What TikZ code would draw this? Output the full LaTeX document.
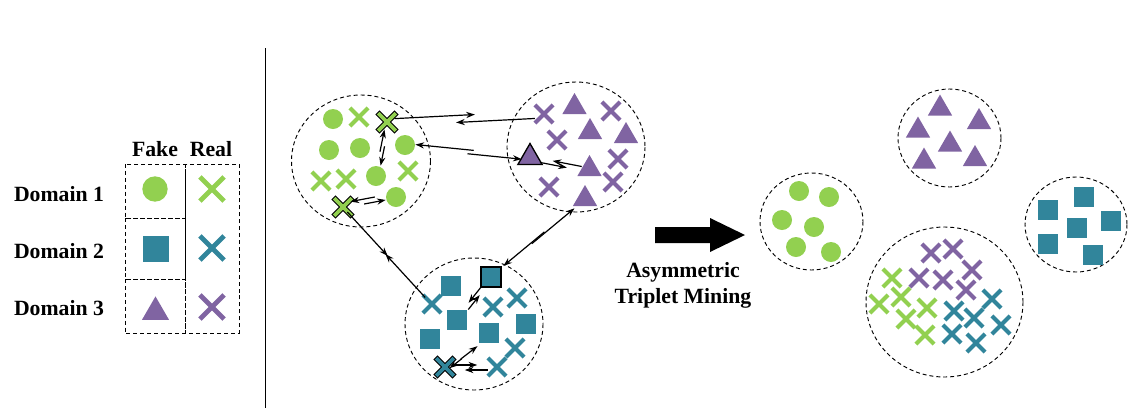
\documentclass[tikz,border=0pt]{standalone}
\usepackage{fontspec}
\setmainfont{Liberation Serif}
\usetikzlibrary{shapes.geometric,shapes.misc,arrows.meta,calc}

\definecolor{grn}{RGB}{146,208,80}
\definecolor{tel}{RGB}{49,133,155}
\definecolor{pur}{RGB}{128,100,162}

\tikzset{every picture/.style={line width=0.75pt}}
\tikzset{
  grp/.style={dash pattern=on 3pt off 2.2pt, line width=0.7pt},
  ball/.style={circle, fill=grn, minimum size=15pt, inner sep=0pt},
  blk/.style={rectangle, fill=tel, minimum size=15pt, inner sep=0pt},
  tri/.style={regular polygon, regular polygon sides=3, fill=pur, minimum size=21pt, inner sep=0pt},
  xx/.style={cross out, draw=#1, line width=3.1pt, minimum size=10.5pt, inner sep=0pt},
  xx/.default=grn,
  xxh/.style={cross out, draw=black, double=#1, double distance=2.9pt, line width=0.75pt, line cap=rect, minimum size=10.5pt, inner sep=0pt},
  xxh/.default=grn,
  hl/.style={draw=black, line width=1pt},
  lk/.style={-{Stealth[length=6.5pt,width=4.6pt]}, line width=0.9pt},
  lbl/.style={font=\fontsize{16.3}{19.5}\selectfont\bfseries, align=center, inner sep=0pt},
}

\begin{document}
\begin{tikzpicture}[x=0.75pt,y=0.75pt,yscale=-1,xscale=1]
\useasboundingbox (0,0) rectangle (1140,412);

% Legend
\node[lbl] (fk) at (155,149) {Fake};
\node[lbl] (rl) at (211,149) {Real};
\node[lbl] (d1) at (59,194) {Domain 1};
\node[lbl] (d2) at (59,251) {Domain 2};
\node[lbl] (d3) at (59,308) {Domain 3};
%Shape: Rectangle
\draw[grp] (125,164) rectangle (185,218);
\draw[grp] (125,218) rectangle (185,279);
\draw[grp] (125,279) rectangle (185,333);
\draw[grp] (185,164) rectangle (239,333);
\node[ball, minimum size=19pt] (lf1) at (155,189) {};
\node[xx=grn, minimum size=14.5pt, line width=3.6pt] (lr1) at (212,189) {};
\node[blk, minimum size=19.5pt] (lf2) at (156,249) {};
\node[xx=tel, minimum size=14.5pt, line width=3.6pt] (lr2) at (212,248) {};
\node[tri, minimum size=23.4pt] (lf3) at (155.5,312) {};
\node[xx=pur, minimum size=14.5pt, line width=3.6pt] (lr3) at (212,307) {};

%Straight Lines
\draw (265,48) -- (265,408);

% Domain 1 cluster
\draw[grp] (361,161) ellipse (69.5 and 66);
\node[ball] (l1) at (333,119) {};
\node[xx] (l2) at (359,117) {};
\node[xxh] (l3) at (387,122) {};
\node[ball] (l4) at (329,150) {};
\node[ball] (l5) at (360,148) {};
\node[ball] (l6) at (405,145) {};
\node[xx] (l7) at (321,181) {};
\node[xx] (l8) at (346,179) {};
\node[ball] (l9) at (376,176) {};
\node[xx] (l10) at (408,171) {};
\node[ball] (l11) at (396,197) {};
\node[xxh] (l12) at (343,207) {};

% Domain 3 cluster
\draw[grp] (576,147) ellipse (69 and 65);
\node[xx=pur] (t1) at (544,114) {};
\node[tri] (t2) at (574.5,107) {};
\node[xx=pur] (t3) at (611,111) {};
\node[tri] (t4) at (590,132) {};
\node[tri] (t5) at (626,136) {};
\node[xx=pur] (t6) at (557,140) {};
\node[tri, hl] (t7) at (530,157.5) {};
\node[tri] (t8) at (589.5,169) {};
\node[xx=pur] (t9) at (618,159) {};
\node[xx=pur] (t10) at (613,182) {};
\node[xx=pur] (t11) at (549,187) {};
\node[tri] (t12) at (585,199) {};

% Domain 2 cluster
\draw[grp] (474,324) ellipse (69 and 66);
\node[blk] (b1) at (451,286) {};
\node[blk, hl] (b2) at (491,277) {};
\node[xx=tel] (b3) at (432,304) {};
\node[xx=tel] (b4) at (493,307) {};
\node[xx=tel] (b5) at (517,298) {};
\node[blk] (b6) at (457,320) {};
\node[blk] (b7) at (430,339) {};
\node[blk] (b8) at (489,333) {};
\node[blk] (b9) at (526,324) {};
\node[xx=tel] (b10) at (515,348) {};
\node[xxh=tel] (b11) at (445,367) {};
\node[xx=tel] (b12) at (497,367) {};

% pairs inside the clusters
\draw[lk, transform canvas={shift={(-1,0)}}] ($(l3)!.55!(l9)$) -- (l3);
\draw[lk, transform canvas={shift={(2.5,0)}}] ($(l9)!.55!(l3)$) -- (l9);
\draw[lk, transform canvas={shift={(0,4)}}] ($(l12)!.6!(l11)$) -- (l12);
\draw[lk, transform canvas={shift={(0,-1)}}] ($(l11)!.6!(l12)$) -- (l11);
\draw[lk, transform canvas={shift={(0,-3)}}] (t7) -- ($(t7)!.62!(t8)$);
\draw[lk, transform canvas={shift={(0,1)}}] (t8) -- ($(t8)!.62!(t7)$);
\draw[lk, transform canvas={shift={(-2,0)}}] (b2) -- ($(b2)!.6!(b6)$);
\draw[lk, transform canvas={shift={(3,0)}}] (b6) -- ($(b6)!.58!(b2)$);
\draw[lk, transform canvas={shift={(-3,-7)}}] ($(b11)!.45!(b8)$) -- (b11);
\draw[lk, transform canvas={shift={(-1,-5)}}] ($(b8)!.62!(b11)$) -- (b8);
\draw[lk, transform canvas={shift={(0,2)}}] (b11) -- ($(b11)!.62!(b12)$);
\draw[lk, transform canvas={shift={(0,-3)}}] (b12) -- ($(b12)!.62!(b11)$);

% pairs between the clusters
\draw[lk, transform canvas={shift={(0,3)}}] (l3) -- ($(l3)!.56!(t1)$);
\draw[lk, transform canvas={shift={(0,-4)}}] (t1) -- ($(t1)!.56!(l3)$);
\draw[lk, transform canvas={shift={(0,-2.5)}}] ($(t7)!.5!(l6)$) -- (t7);
\draw[lk, transform canvas={shift={(0,1.5)}}] ($(l6)!.55!(t7)$) -- (l6);
\draw[lk, transform canvas={shift={(-2.5,2.5)}}] (l12) -- ($(l12)!.53!(b3)$);
\draw[lk, transform canvas={shift={(1.5,-2.5)}}] (b3) -- ($(b3)!.54!(l12)$);
\draw[lk, transform canvas={shift={(-1.5,-1.8)}}] ($(t12)!.55!(b2)$) -- (t12);
\draw[lk, transform canvas={shift={(1.7,2.2)}}] ($(b2)!.55!(t12)$) -- (b2);

%Shape: Right Arrow
\fill (655,227) -- (710,227) -- (710,218) -- (745,235) -- (710,252) -- (710,243) -- (655,243) -- cycle;
% Text Node
\node[lbl] (atm) at (683,285) {Asymmetric\\Triplet Mining};

% fake Domain 1
\draw[grp] (811.5,221.5) ellipse (51.5 and 48.5);
\node[ball] (rg1) at (799,191) {};
\node[ball] (rg2) at (829,197) {};
\node[ball] (rg3) at (782,220) {};
\node[ball] (rg4) at (814,227) {};
\node[ball] (rg5) at (796,247) {};
\node[ball] (rg6) at (831,252) {};

% fake Domain 3
\draw[grp] (949.5,138) ellipse (51.5 and 49);
\node[tri] (rp1) at (940,108.5) {};
\node[tri] (rp2) at (979,122) {};
\node[tri] (rp3) at (918,130.5) {};
\node[tri] (rp4) at (950,144.5) {};
\node[tri] (rp5) at (924,161.5) {};
\node[tri] (rp6) at (975,159) {};

% fake Domain 2
\draw[grp] (1076,224.5) ellipse (51 and 47.5);
\node[blk] (rt1) at (1048,210) {};
\node[blk] (rt2) at (1084,197) {};
\node[blk] (rt3) at (1111,221) {};
\node[blk] (rt4) at (1077,228) {};
\node[blk] (rt5) at (1048,244) {};
\node[blk] (rt6) at (1093,255) {};

% real, all domains
\draw[grp] (944.5,302) ellipse (78.5 and 75);
\node[xx=pur] (rx1) at (931,253) {};
\node[xx=pur] (rx2) at (953,249) {};
\node[xx=pur] (rx3) at (972,270) {};
\node[xx=pur] (rx4) at (919,278) {};
\node[xx=pur] (rx5) at (943,280) {};
\node[xx=pur] (rx6) at (966,290) {};
\node[xx] (rx7) at (892,278) {};
\node[xx] (rx8) at (901,297) {};
\node[xx] (rx9) at (879,304) {};
\node[xx] (rx10) at (927,308) {};
\node[xx] (rx11) at (906,319) {};
\node[xx] (rx12) at (925,335) {};
\node[xx=tel] (rx13) at (992,299) {};
\node[xx=tel] (rx14) at (954,311) {};
\node[xx=tel] (rx15) at (974,318) {};
\node[xx=tel] (rx16) at (1001,325) {};
\node[xx=tel] (rx17) at (952,334) {};
\node[xx=tel] (rx18) at (976,343) {};

\end{tikzpicture}
\end{document}
